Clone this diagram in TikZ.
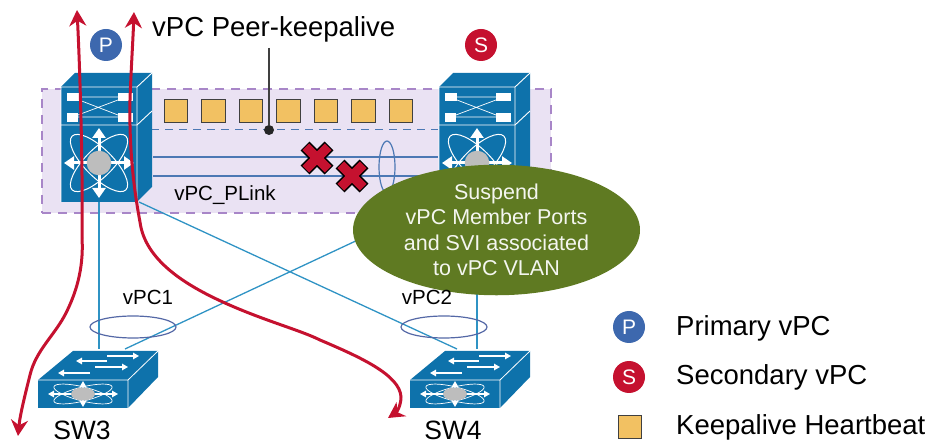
\documentclass[tikz,border=0pt]{standalone}
\usepackage{fontspec}
\setmainfont{Liberation Sans}
\usetikzlibrary{arrows.meta, shapes.geometric}

\definecolor{boxblue}{HTML}{0E72AB}
\definecolor{wireblue}{HTML}{2F93C4}
\definecolor{plinkblue}{HTML}{4C78B4}
\definecolor{ringblue}{HTML}{5468A6}
\definecolor{zonefill}{HTML}{EAE2F3}
\definecolor{zoneedge}{HTML}{A886C8}
\definecolor{beatfill}{HTML}{F2C162}
\definecolor{flowred}{HTML}{C5112F}
\definecolor{badgeblue}{HTML}{3D68AE}
\definecolor{suspendgreen}{HTML}{5F7A22}
\definecolor{coregrey}{HTML}{BDBDBD}

\tikzset{
  whitearrow/.style = {draw = white, line width = 3pt, -{Triangle[length = 10pt, width = 13pt]}},
  thinarrow/.style = {draw = white, line width = 1.3pt, -{Triangle[length = 6pt, width = 6.5pt]}},
  pics/nexus/.style = {code = {
    \fill[boxblue] (-38,-76) -- (-24,-90) -- (53,-90) -- (53,24) -- (38,39) -- (-38,39) -- cycle;
    \draw[white, line width = 0.9pt] (-38,39) -- (-38,-76) -- (38,-76) -- (38,39) (38,-76) -- (53,-90);
    \draw[white, line width = 0.9pt] (-38,-38) -- (38,-38) -- (53,-52);
    % crossbar
    \fill[white] (-32,-70) rectangle (-20,-62);
    \fill[white] (19,-70) rectangle (34,-62);
    \fill[white] (-32,-50) rectangle (-21,-41);
    \fill[white] (19,-50) rectangle (34,-41);
    \draw[white, line width = 0.7pt] (-20,-66) -- (19,-66) (-21,-46) -- (19,-46)
      (-20,-63) -- (19,-48) (-21,-48) -- (19,-63);
    % core
    \draw[white, line width = 1pt, rotate = 45] (0,0) ellipse (38pt and 14pt);
    \draw[white, line width = 1pt, rotate = -45] (0,0) ellipse (38pt and 14pt);
    \foreach \ang in {0, 90, 180, 270}
      \draw[whitearrow] (\ang:8) -- (\ang:35);
    \fill[coregrey] (0,0) circle (12.3);
    \coordinate (-down) at (0,39);
    \coordinate (-left) at (-38,39);
    \coordinate (-right) at (40,39);
    \coordinate (-linka) at (54,-6);
    \coordinate (-linkb) at (54,13);
  }},
  pics/access/.style = {code = {
    \fill[boxblue] (-45,-14) -- (-10,-43) -- (75,-43) -- (75,-17) -- (45,14) -- (-45,14) -- cycle;
    \draw[white, line width = 0.8pt] (-45,-14) -- (45,-14) -- (45,14) (45,-14) -- (75,-43);
    \draw[thinarrow] (24,-38) -- (56,-38);
    \draw[thinarrow] (24,-33) -- (-7,-33);
    \draw[thinarrow] (12,-27) -- (45,-27);
    \draw[thinarrow] (7,-21) -- (-25,-21);
    % core
    \draw[white, line width = 0.7pt, rotate = 14] (0,0) ellipse (30pt and 7pt);
    \draw[white, line width = 0.7pt, rotate = -14] (0,0) ellipse (30pt and 7pt);
    \draw[thinarrow] (0,0) -- (35,0);
    \draw[thinarrow] (0,0) -- (-35,0);
    \draw[thinarrow, line width = 2pt] (0,0) -- (0,-13);
    \draw[thinarrow, line width = 2pt] (0,0) -- (0,13);
    \fill[coregrey] (0,0) ellipse (12pt and 6.5pt);
  }},
  pics/failmark/.style = {code = {
    \draw[black, line width = 12.5pt] (-12,-12) -- (12,12) (-12,12) -- (12,-12);
    \draw[flowred, line width = 9.5pt] (-11.2,-11.2) -- (11.2,11.2) (-11.2,11.2) -- (11.2,-11.2);
  }}
}

\begin{document}
\begin{tikzpicture}[
    x = 1pt, y = -1pt,
    every node/.style = {inner sep = 0pt},
    wire/.style = {draw = wireblue, line width = 1.3pt},
    plink/.style = {draw = plinkblue, line width = 1.2pt},
    ring/.style = {draw = ringblue, line width = 1.2pt, ellipse, minimum width = 86pt, minimum height = 22pt},
    beat/.style = {draw = black!75, line width = 1.1pt, fill = beatfill, minimum size = 23.5pt},
    badge/.style = {circle, minimum size = 32pt, text = white, font = \fontsize{21}{21}\selectfont},
    flowtip/.style = {draw = flowred, line width = 3pt, -{Stealth[length = 16pt, width = 17pt]}},
    label/.style = {font = \fontsize{20.5}{24}\selectfont},
    biglabel/.style = {font = \fontsize{27.5}{30}\selectfont}
  ]
  \useasboundingbox (0,0) rectangle (929,443);

  \node[draw = zoneedge, dashed, dash pattern = on 9pt off 7pt, line width = 2.6pt, fill = zonefill,
    minimum width = 509pt, minimum height = 124pt] (zone) at (296.5,151) {};

  % keepalive row
  \foreach \i in {0,...,6}
    \node[beat] (beat\i) at (176+37.5*\i,111) {};
  \coordinate (peerL) at (137,130);
  \coordinate (peerR) at (438,130);
  \draw[draw = plinkblue, dashed, dash pattern = on 8pt off 6pt, line width = 1pt] (peerL) -- (peerR);

  \coordinate (linkaR) at (438,157);
  \coordinate (linkbR) at (438,176);
  \pic (nexusP) at (99,163) {nexus};
  \pic (nexusS) at (477,163) {nexus};
  \draw[plink] (nexusP-linka) -- (linkaR);
  \draw[plink] (nexusP-linkb) -- (linkbR);
  \node[draw = plinkblue, line width = 1.2pt, ellipse, minimum width = 16pt, minimum height = 52pt] (plinkRing) at (387,167) {};
  \pic at (317,158) {failmark};
  \pic at (352,176) {failmark};

  \node[circle, fill = black!85, minimum size = 10pt] (peerDot) at (269,130) {};
  \coordinate (peerTop) at (269,48);
  \draw[black!75, line width = 1.2pt] (peerTop) -- (peerDot);

  % access layer
  \pic (swA) at (83,394) {access};
  \pic (swB) at (455,394) {access};
  \coordinate (swAa) at (99,349);
  \coordinate (swAb) at (125,349);
  \coordinate (swBa) at (457,349);
  \coordinate (swBb) at (477,349);
  \draw[wire] (nexusP-down) -- (swAa);
  \draw[wire] (nexusS-left) -- (swAb);
  \draw[wire] (nexusP-right) -- (swBa);
  \draw[wire] (nexusS-down) -- (swBb);
  \node[ring] (ringA) at (133,327) {};
  \node[ring] (ringB) at (444,327) {};

  % traffic
  \coordinate (flowAs) at (82,238);
  \coordinate (flowAe) at (18,436);
  \coordinate (flowAt) at (77,10);
  \draw[flowtip] (flowAs) .. controls (83,170) and (80,70) .. (flowAt);
  \draw[flowtip] (flowAs) .. controls (84,270) and (75,295) .. (66,313) .. controls (55,335) and (36,350) .. (30,375)
    .. controls (25,395) and (20,415) .. (flowAe);
  \coordinate (flowBs) at (140,222);
  \coordinate (flowBt) at (134,12);
  \coordinate (flowBe) at (388,418);
  \draw[flowtip] (flowBs) .. controls (134,190) and (129,150) .. (130,100) .. controls (131,70) and (133,40) .. (flowBt);
  \draw[flowtip] (flowBs) .. controls (145,260) and (185,285) .. (225,303) .. controls (265,321) and (300,330) .. (320,340)
    .. controls (360,357) and (400,375) .. (401,397) .. controls (401,405) and (397,412) .. (flowBe);

  \node[ellipse, fill = suspendgreen, minimum width = 287pt, minimum height = 114pt, text = white!93!suspendgreen,
    align = center, font = \fontsize{21.5}{25.5}\selectfont] (suspend) at (496.5,230)
    {Suspend\\vPC Member Ports\\and SVI associated\\to vPC VLAN};

  % labels
  \node[badge, fill = badgeblue] (badgeP) at (106,45) {P};
  \node[badge, fill = flowred] (badgeS) at (481,45) {S};
  \node[biglabel, anchor = west] (peerText) at (152,29) {vPC Peer-keepalive};
  \node[label] (plinkText) at (225,195) {vPC\_PLink};
  \node[label] (vpcA) at (148,297) {vPC1};
  \node[label] (vpcB) at (427,297) {vPC2};
  \node[biglabel, font = \fontsize{26.5}{28}\selectfont] (swAText) at (82,430) {SW3};
  \node[biglabel, font = \fontsize{26.5}{28}\selectfont] (swBText) at (453,430) {SW4};

  % legend
  \node[badge, fill = badgeblue] (legendP) at (629,327) {P};
  \node[badge, fill = flowred] (legendS) at (629,377) {S};
  \node[beat] (legendBeat) at (630,427) {};
  \node[biglabel, anchor = west] (legendPText) at (676,328) {Primary vPC};
  \node[biglabel, anchor = west] (legendSText) at (676,377) {Secondary vPC};
  \node[biglabel, anchor = west] (legendBeatText) at (676,427) {Keepalive Heartbeat};
\end{tikzpicture}
\end{document}
